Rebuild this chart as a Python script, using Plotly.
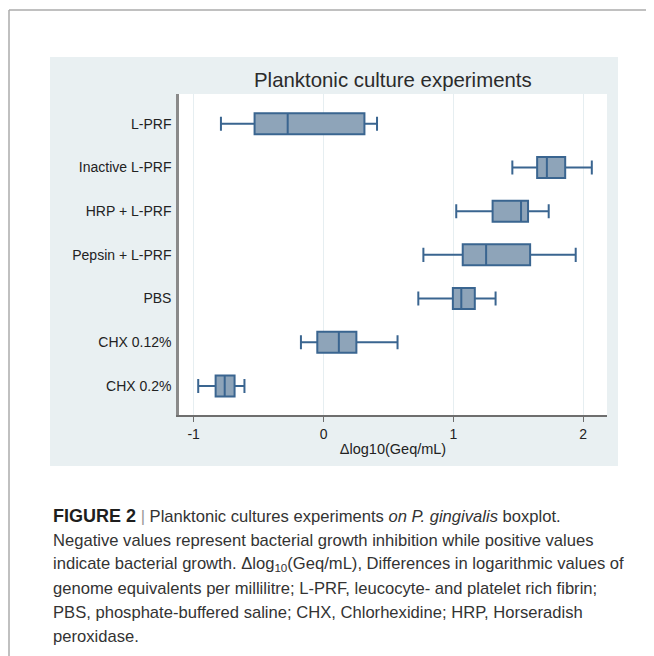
import plotly.graph_objects as go

groups = ["L-PRF", "Inactive L-PRF", "HRP + L-PRF", "Pepsin + L-PRF", "PBS", "CHX 0.12%", "CHX 0.2%"]
lower = [-0.79, 1.454, 1.022, 0.769, 0.730, -0.174, -0.965]
q1 = [-0.531, 1.645, 1.302, 1.072, 0.996, -0.048, -0.831]
median = [-0.276, 1.720, 1.521, 1.252, 1.061, 0.118, -0.761]
q3 = [0.315, 1.861, 1.575, 1.591, 1.165, 0.253, -0.685]
upper = [0.412, 2.066, 1.734, 1.942, 1.325, 0.570, -0.609]
x_ticks = [-1, 0, 1, 2]

caption_lines = [
    "<b><span style='font-size:18px;color:#1e1e1e'>FIGURE 2</span></b> "
    "<span style='color:#9a9a9a'>|</span> Planktonic cultures experiments <i>on P. gingivalis</i> boxplot.",
    "Negative values represent bacterial growth inhibition while positive values",
    "indicate bacterial growth. Δlog<sub>10</sub>(Geq/mL), Differences in logarithmic values of",
    "genome equivalents per millilitre; L-PRF, leucocyte- and platelet rich fibrin;",
    "PBS, phosphate-buffered saline; CHX, Chlorhexidine; HRP, Horseradish",
    "peroxidase.",
]

# the page body adds an 8px margin, so the figure is drawn 8px smaller
# and every pixel position below is taken from the reference minus 8
OFF = 8
W, H = 654 - OFF, 656 - OFF
L, R, T, B = 179 - OFF, 607 - OFF, 94 - OFF, 415 - OFF


def px(x):
    return (x - OFF - L) / (R - L)


def py(y):
    return (B - (y - OFF)) / (B - T)


FONT = "Liberation Sans, Arial, sans-serif"
BOX_FILL = "#8ea4b9"
BOX_LINE = "#3a6590"
PANEL = "#e9f0f2"

fig = go.Figure()
fig.add_trace(go.Box(
    y=groups, q1=q1, median=median, q3=q3,
    lowerfence=lower, upperfence=upper,
    orientation="h", width=0.48, whiskerwidth=0.67,
    fillcolor=BOX_FILL, line=dict(color=BOX_LINE, width=2),
    boxpoints=False, showlegend=False, hoverinfo="skip",
))

shapes = [
    # grey region behind the chart
    dict(type="rect", xref="paper", yref="paper", layer="below",
         x0=px(50), x1=px(618), y0=py(466), y1=py(57),
         fillcolor=PANEL, line=dict(width=0)),
    # white plot region
    dict(type="rect", xref="paper", yref="paper", layer="below",
         x0=0, x1=1, y0=0, y1=1, fillcolor="white", line=dict(width=0)),
    # page frame
    dict(type="line", xref="paper", yref="paper",
         x0=px(9), x1=px(9), y0=py(10), y1=py(670),
         line=dict(color="#ababab", width=1.5)),
    dict(type="line", xref="paper", yref="paper",
         x0=px(9), x1=px(670), y0=py(10), y1=py(10),
         line=dict(color="#ababab", width=1.5)),
]

annotations = [
    dict(text="Planktonic culture experiments", xref="paper", yref="paper",
         x=0.5, y=py(80), xanchor="center", yanchor="middle", showarrow=False,
         font=dict(family=FONT, size=20.4, color="#2b2b2b")),
]
for i, line in enumerate(caption_lines):
    annotations.append(dict(
        text=line, xref="paper", yref="paper", x=px(51), y=py(516 + 24 * i),
        xanchor="left", yanchor="middle", showarrow=False, align="left",
        font=dict(family=FONT, size=16.6, color="#333333"),
    ))

fig.update_layout(
    width=W, height=H,
    margin=dict(l=L, r=W - R, t=T, b=H - B, pad=0),
    paper_bgcolor="white", plot_bgcolor="rgba(0,0,0,0)",
    font=dict(family=FONT, size=14, color="#222222"),
    shapes=shapes, annotations=annotations,
    xaxis=dict(
        range=[-1.113, 2.183], tickvals=x_ticks, ticktext=[str(v) for v in x_ticks],
        showgrid=True, gridcolor="#e6eef1", gridwidth=1, zeroline=False,
        showline=True, linecolor="#6e6e6e", linewidth=1.5,
        ticks="outside", ticklen=5, tickcolor="#6e6e6e",
        tickfont=dict(size=14),
        title=dict(text="Δlog10(Geq/mL)", standoff=3, font=dict(size=14.5)),
    ),
    yaxis=dict(
        type="category", categoryorder="array", categoryarray=groups,
        range=[6.665, -0.681], showgrid=False, zeroline=False,
        showline=True, linecolor="#8a8a8a", linewidth=2.5,
        ticks="", ticklabelstandoff=2, tickfont=dict(size=14),
    ),
)

fig.write_html("out.html")
